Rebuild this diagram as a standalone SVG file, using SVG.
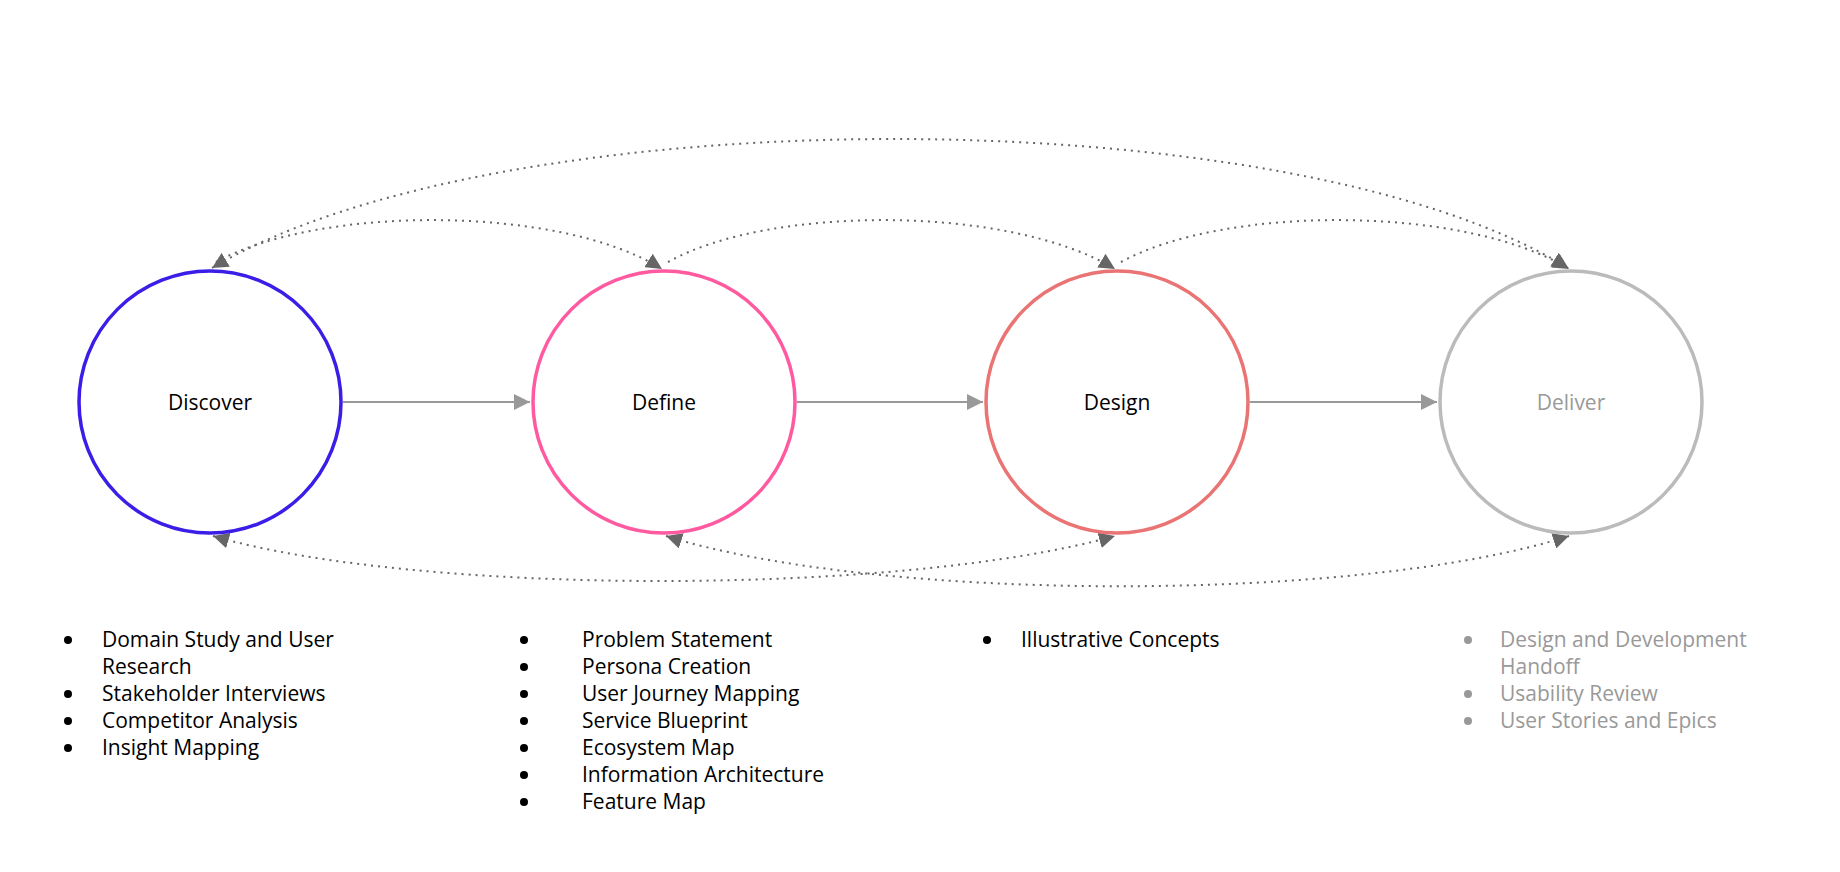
<svg xmlns="http://www.w3.org/2000/svg" width="1840" height="872" viewBox="0 0 1840 872">
<style>
text{font-family:"Open Sans","Noto Sans",sans-serif;font-size:21px;fill:#000}
.g{fill:#999}
.lbl{text-anchor:middle}
.node{fill:#fff;stroke-width:3.5}
.flow{stroke:#999;stroke-width:2;fill:none}
.dot{stroke:#666;stroke-width:2;stroke-dasharray:2 5;fill:none}
</style>
<defs>
<marker id="ah" viewBox="0 0 10 10" refX="10" refY="5" markerWidth="16" markerHeight="16" markerUnits="userSpaceOnUse" orient="auto-start-reverse"><path d="M0,0L10,5L0,10z" fill="#666"/></marker>
<marker id="af" viewBox="0 0 10 10" refX="10" refY="5" markerWidth="16" markerHeight="16" markerUnits="userSpaceOnUse" orient="auto"><path d="M0,0L10,5L0,10z" fill="#999"/></marker>
</defs>
<g id="connectors">
<line class="flow" x1="343" y1="402" x2="530" y2="402" marker-end="url(#af)"/>
<line class="flow" x1="797" y1="402" x2="983" y2="402" marker-end="url(#af)"/>
<line class="flow" x1="1250" y1="402" x2="1437" y2="402" marker-end="url(#af)"/>
<path class="dot" d="M212,268 C500,96 1290,96 1568,268" marker-start="url(#ah)" marker-end="url(#ah)"/>
<path class="dot" d="M216,262 C320,205 560,205 662,269" marker-end="url(#ah)"/>
<path class="dot" d="M668,262 C770,205 1010,205 1115,269" marker-end="url(#ah)"/>
<path class="dot" d="M1121,262 C1225,205 1465,205 1569,269" marker-end="url(#ah)"/>
<path class="dot" d="M213,536 C420,596 900,596 1115,536" marker-start="url(#ah)" marker-end="url(#ah)"/>
<path class="dot" d="M666,536 C880,603 1360,603 1569,536" marker-start="url(#ah)" marker-end="url(#ah)"/>
</g>
<g id="discover"><circle class="node" cx="210" cy="402" r="131" stroke="#3a1ee8"/><text class="lbl" x="210" y="410">Discover</text></g>
<g id="define"><circle class="node" cx="664" cy="402" r="131" stroke="#ff5aa0"/><text class="lbl" x="664" y="410">Define</text></g>
<g id="design"><circle class="node" cx="1117" cy="402" r="131" stroke="#ea7373"/><text class="lbl" x="1117" y="410">Design</text></g>
<g id="deliver"><circle class="node" cx="1571" cy="402" r="131" stroke="#bbb"/><text class="lbl g" x="1571" y="410">Deliver</text></g>
<g id="list-discover">
<circle cx="68" cy="640" r="4"/><text x="102" y="647">Domain Study and User</text><text x="102" y="674">Research</text>
<circle cx="68" cy="694" r="4"/><text x="102" y="701">Stakeholder Interviews</text>
<circle cx="68" cy="721" r="4"/><text x="102" y="728">Competitor Analysis</text>
<circle cx="68" cy="748" r="4"/><text x="102" y="755">Insight Mapping</text>
</g>
<g id="list-define">
<circle cx="524" cy="640" r="4"/><text x="582" y="647">Problem Statement</text>
<circle cx="524" cy="667" r="4"/><text x="582" y="674">Persona Creation</text>
<circle cx="524" cy="694" r="4"/><text x="582" y="701">User Journey Mapping</text>
<circle cx="524" cy="721" r="4"/><text x="582" y="728">Service Blueprint</text>
<circle cx="524" cy="748" r="4"/><text x="582" y="755">Ecosystem Map</text>
<circle cx="524" cy="775" r="4"/><text x="582" y="782">Information Architecture</text>
<circle cx="524" cy="802" r="4"/><text x="582" y="809">Feature Map</text>
</g>
<g id="list-design">
<circle cx="987" cy="640" r="4"/><text x="1021" y="647">Illustrative Concepts</text>
</g>
<g id="list-deliver" fill="#999">
<circle cx="1468" cy="640" r="4"/><text class="g" x="1500" y="647">Design and Development</text><text class="g" x="1500" y="674">Handoff</text>
<circle cx="1468" cy="694" r="4"/><text class="g" x="1500" y="701">Usability Review</text>
<circle cx="1468" cy="721" r="4"/><text class="g" x="1500" y="728">User Stories and Epics</text>
</g>
</svg>
